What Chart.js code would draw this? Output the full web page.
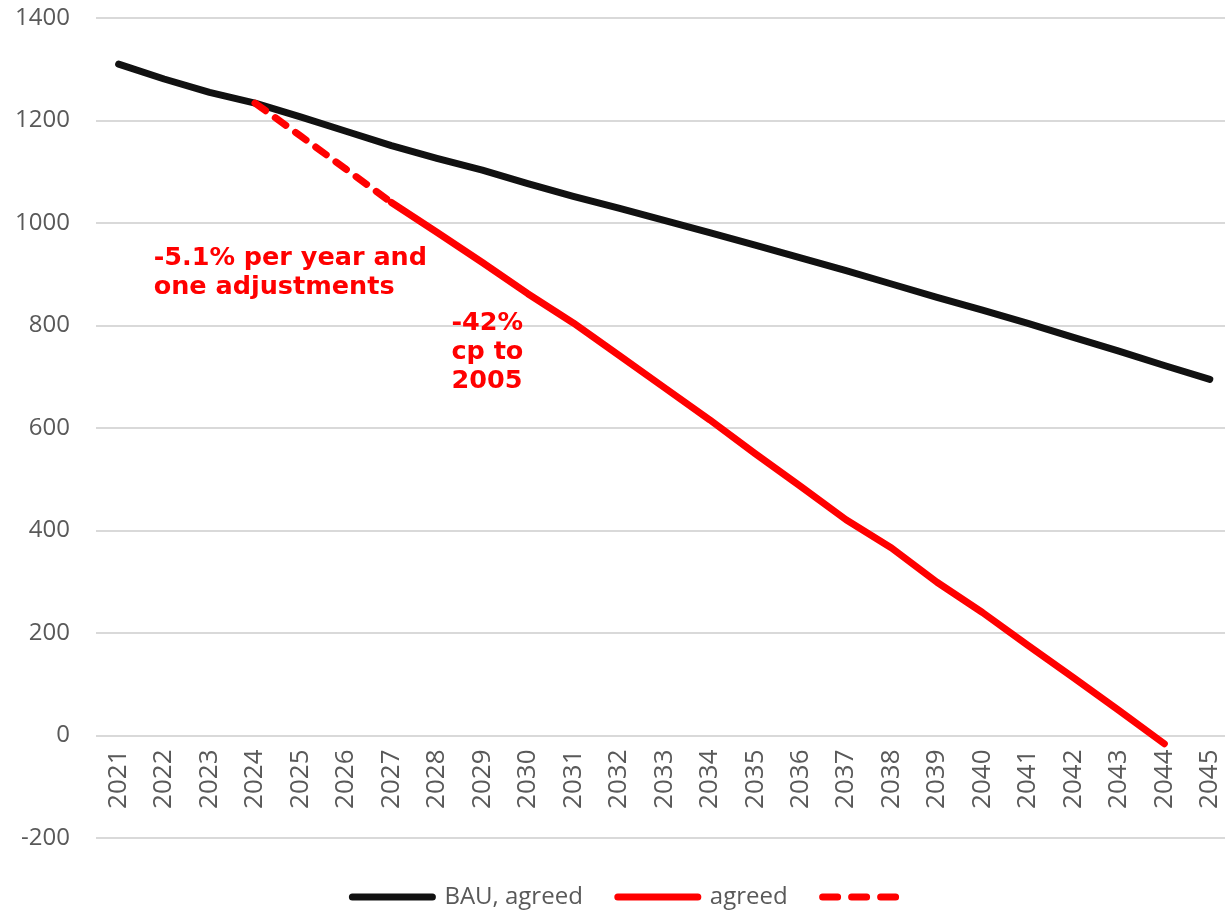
<!DOCTYPE html>
<html>
<head>
<meta charset="utf-8">
<title>Emissions path</title>
<script src="https://cdn.jsdelivr.net/npm/chart.js@4.4.0/dist/chart.umd.min.js"></script>
<style>
    html, body { margin: 0; padding: 0; background: #fff; overflow: hidden; }
    canvas { display: block; }
</style>
</head>
<body>
<canvas id="pathChart" width="1255" height="911"></canvas>
<script>
// Years on the x axis
const years = ['2021', '2022', '2023', '2024', '2025', '2026', '2027', '2028', '2029', '2030',
    '2031', '2032', '2033', '2034', '2035', '2036', '2037', '2038', '2039', '2040',
    '2041', '2042', '2043', '2044', '2045'];

// Business as usual
const bauAgreed = [1310, 1281, 1255, 1234, 1207, 1179, 1151, 1126, 1103, 1077,
    1052, 1029, 1005, 981, 957, 932, 907, 881, 855, 830,
    804, 777, 750, 722, 695];

// Agreed reduction path (solid part)
const agreed = [null, null, null, null, null, null, 1040, 982, 923, 862,
    805, 742, 679, 616, 550, 486, 421, 366, 299, 240,
    176, 113, 49, -16, null];

// Transition years, drawn dashed
const agreedBridge = [null, null, null, 1234, 1170, 1105, 1040, null, null, null,
    null, null, null, null, null, null, null, null, null, null,
    null, null, null, null, null];

const yMin = -200;
const yMax = 1400;
const yStep = 200;

const GREY = '#595959';
const RED = '#ff0000';
const tickFont = { family: "'Open Sans'", size: 24 };

// Red notes written onto the plot, placed in axis units
const notes = [
    { lines: ['-5.1% per year and', 'one adjustments'], x: 0.77, y: 919 },
    { lines: ['-42%', 'cp to', '2005'], x: 7.32, y: 792 }
];

const notesPlugin = {
    id: 'notes',
    afterDatasetsDraw(chart) {
        const ctx = chart.ctx;
        const xs = chart.scales.x;
        const ys = chart.scales.y;
        ctx.save();
        ctx.fillStyle = RED;
        ctx.font = "bold 25.5px 'DejaVu Sans'";
        ctx.textAlign = 'left';
        ctx.textBaseline = 'alphabetic';
        notes.forEach(function(n) {
            const px = xs.getPixelForValue(n.x);
            const py = ys.getPixelForValue(n.y);
            n.lines.forEach(function(line, i) {
                ctx.fillText(line, px, py + i * 29);
            });
        });
        ctx.restore();
    }
};

// Legend: keep wide gaps between items but not the tall box that comes with them
const legendBox = {
    id: 'legendBox',
    beforeLayout(chart) {
        const legend = chart.legend;
        if (legend && !legend._boxPatched) {
            const fit = legend.fit;
            legend.fit = function() {
                fit.call(this);
                this.height = 73;
            };
            legend._boxPatched = true;
        }
    },
    afterLayout(chart) {
        chart.legend.top += 12;
        chart.legend.bottom += 12;
    }
};

const legendDash = [[], [], [15, 14]];

const ctx = document.getElementById('pathChart').getContext('2d');
const pathChart = new Chart(ctx, {
    type: 'line',
    data: {
        labels: years,
        datasets: [
            {
                label: 'BAU, agreed',
                data: bauAgreed,
                borderColor: '#111111',
                backgroundColor: '#111111',
                borderWidth: 7,
                order: 2
            },
            {
                label: 'agreed',
                data: agreed,
                borderColor: RED,
                backgroundColor: RED,
                borderWidth: 7,
                order: 1
            },
            {
                label: '',
                data: agreedBridge,
                borderColor: RED,
                backgroundColor: RED,
                borderWidth: 7,
                borderDash: [13, 12],
                order: 0
            }
        ]
    },
    options: {
        responsive: false,
        animation: false,
        layout: {
            padding: { left: 12, right: 0, top: 18, bottom: 0 }
        },
        elements: {
            line: { tension: 0, borderCapStyle: 'round', borderJoinStyle: 'round', fill: false },
            point: { radius: 0, hoverRadius: 0 }
        },
        scales: {
            x: {
                type: 'category',
                position: { y: 0 },
                offset: true,
                grid: { display: false, drawTicks: false },
                border: { display: false },
                ticks: {
                    autoSkip: false,
                    minRotation: 90,
                    maxRotation: 90,
                    padding: 14,
                    color: GREY,
                    font: { family: "'Open Sans'", size: 26 }
                },
                afterFit(scale) {
                    scale.height = 0;
                }
            },
            y: {
                min: yMin,
                max: yMax,
                grid: {
                    color: '#d9d9d9',
                    lineWidth: 2,
                    drawTicks: true,
                    tickLength: 23,
                    tickColor: 'rgba(0,0,0,0)'
                },
                border: { display: false },
                ticks: {
                    stepSize: yStep,
                    padding: 3,
                    color: GREY,
                    font: tickFont,
                    callback: function(value) {
                        return String(value);
                    }
                }
            }
        },
        plugins: {
            tooltip: { enabled: false },
            legend: {
                position: 'bottom',
                labels: {
                    usePointStyle: true,
                    pointStyle: 'line',
                    pointStyleWidth: 80,
                    padding: 35,
                    color: GREY,
                    font: tickFont,
                    generateLabels(chart) {
                        return chart.data.datasets.map(function(ds, i) {
                            return {
                                text: ds.label,
                                fillStyle: ds.borderColor,
                                strokeStyle: ds.borderColor,
                                fontColor: GREY,
                                lineWidth: 7,
                                lineCap: 'round',
                                lineDash: legendDash[i],
                                pointStyle: 'line',
                                hidden: false,
                                datasetIndex: i
                            };
                        });
                    }
                }
            }
        }
    },
    plugins: [notesPlugin, legendBox]
});
</script>
</body>
</html>
